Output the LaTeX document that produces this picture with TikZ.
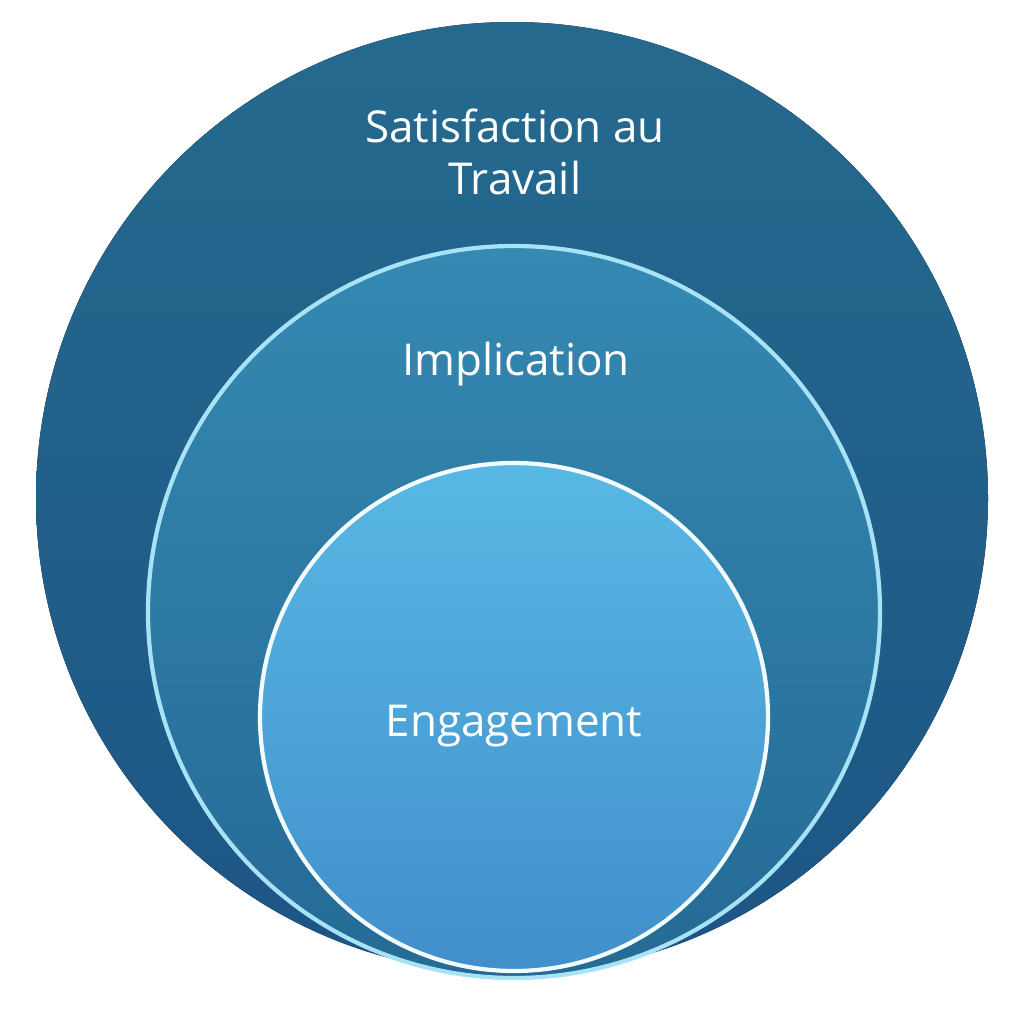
\documentclass[tikz,border=0pt]{standalone}
\usepackage{fontspec}
\setmainfont{Open Sans}
\begin{document}
\begin{tikzpicture}[x=0.01cm,y=-0.01cm,
  lbl/.style={text=white,font=\fontsize{12.5}{15}\selectfont,align=center}]
\useasboundingbox (0,0) rectangle (1024,1024);
\definecolor{outA}{HTML}{256A8E}\definecolor{outB}{HTML}{1D5585}
\definecolor{midA}{HTML}{3589B2}\definecolor{midB}{HTML}{246A95}
\definecolor{inA}{HTML}{58B8E4}\definecolor{inB}{HTML}{418FCB}
\definecolor{rim}{HTML}{A8E2F6}
\fill[top color=outA,bottom color=outB] (512,498) circle (476);
\draw[rim,line width=1.2pt,top color=midA,bottom color=midB] (514,612) circle (366);
\draw[white!85!rim,line width=1.2pt,top color=inA,bottom color=inB] (514,717) circle (254);
\node[lbl] (s) at (515,152) {Satisfaction au\\Travail};
\node[lbl] (i) at (516,364) {Implication};
\node[lbl] (e) at (514,726) {Engagement};
\end{tikzpicture}
\end{document}
